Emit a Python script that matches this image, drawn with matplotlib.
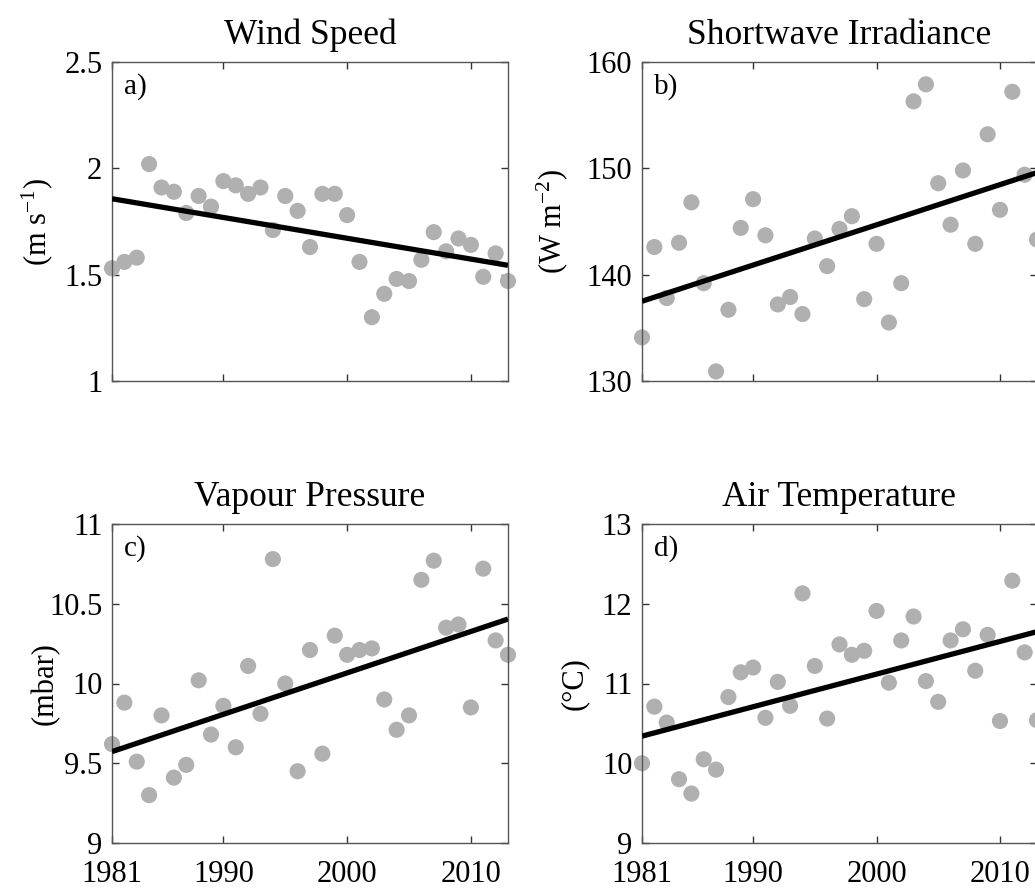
import numpy as np
import matplotlib
matplotlib.use('Agg')
import matplotlib.pyplot as plt

plt.rcParams['font.family'] = ['Liberation Serif', 'DejaVu Serif']
plt.rcParams['mathtext.fontset'] = 'stix'

years = np.arange(1981, 2014)

wind = [1.53, 1.56, 1.58, 2.02, 1.91, 1.89, 1.79, 1.87, 1.82, 1.94, 1.92,
        1.88, 1.91, 1.71, 1.87, 1.80, 1.63, 1.88, 1.88, 1.78, 1.56, 1.30,
        1.41, 1.48, 1.47, 1.57, 1.70, 1.61, 1.67, 1.64, 1.49, 1.60, 1.47]
shortwave = [134.1, 142.6, 137.8, 143.0, 146.8, 139.2, 130.9, 136.7, 144.4,
             147.1, 143.7, 137.2, 137.9, 136.3, 143.4, 140.8, 144.3, 145.5,
             137.7, 142.9, 135.5, 139.2, 156.3, 157.9, 148.6, 144.7, 149.8,
             142.9, 153.2, 146.1, 157.2, 149.4, 143.3]
vapour = [9.62, 9.88, 9.51, 9.30, 9.80, 9.41, 9.49, 10.02, 9.68, 9.86, 9.60,
          10.11, 9.81, 10.78, 10.00, 9.45, 10.21, 9.56, 10.30, 10.18, 10.21,
          10.22, 9.90, 9.71, 9.80, 10.65, 10.77, 10.35, 10.37, 9.85, 10.72,
          10.27, 10.18]
air_temp = [10.00, 10.71, 10.51, 9.80, 9.62, 10.05, 9.92, 10.83, 11.14, 11.20,
            10.57, 11.02, 10.72, 12.13, 11.22, 10.56, 11.49, 11.36, 11.41,
            11.91, 11.01, 11.54, 11.84, 11.03, 10.77, 11.54, 11.68, 11.16,
            11.61, 10.53, 12.29, 11.39, 10.54]

# trend line values at 1981 and 2013
trend_years = [1981, 2013]
wind_trend = [1.857, 1.544]
shortwave_trend = [137.5, 149.6]
vapour_trend = [9.573, 10.404]
air_temp_trend = [10.34, 11.65]

panels = [
    ('Wind Speed', 'a)', wind, wind_trend, (1, 2.5), [1, 1.5, 2, 2.5],
     ['1', '1.5', '2', '2.5'], r'(m s$^{\mathregular{-1}}$)'),
    ('Shortwave Irradiance', 'b)', shortwave, shortwave_trend, (130, 160),
     [130, 140, 150, 160], ['130', '140', '150', '160'], r'(W m$^{\mathregular{-2}}$)'),
    ('Vapour Pressure', 'c)', vapour, vapour_trend, (9, 11),
     [9, 9.5, 10, 10.5, 11], ['9', '9.5', '10', '10.5', '11'], '(mbar)'),
    ('Air Temperature', 'd)', air_temp, air_temp_trend, (9, 13),
     [9, 10, 11, 12, 13], ['9', '10', '11', '12', '13'], '(°C)'),
]

W, H = 1035, 890
fig = plt.figure(figsize=(W / 100, H / 100), dpi=100)

# axes boxes in pixels: left, top, right, bottom
boxes = [(112, 62, 508, 381), (642, 62, 1037, 381),
         (112, 524, 508, 843), (642, 524, 1037, 843)]
# right edge of each y label, in pixels
ylabel_x = [56, 571, 60, 589]

for i, (title, letter, vals, trend, ylim, yticks, ylabels, ylab) in enumerate(panels):
    l, t, r, b = boxes[i]
    ax = fig.add_axes([l / W, 1 - b / H, (r - l) / W, (b - t) / H])
    ax.scatter(years, vals, s=135, color='#b0b0b0', edgecolors='none',
               clip_on=False, zorder=2)
    ax.plot(trend_years, trend, color='black', lw=3.8, zorder=3,
            solid_capstyle='butt')
    ax.set_xlim(1981, 2013)
    ax.set_ylim(*ylim)
    ax.set_yticks(yticks)
    ax.set_yticklabels(ylabels)
    ax.set_xticks([1981, 1990, 2000, 2010])
    if i >= 2:
        ax.set_xticklabels(['1981', '1990', '2000', '2010'])
    else:
        ax.set_xticklabels([])
    ax.tick_params(direction='in', length=5, width=1, top=True, right=True,
                   labelsize=22, color='#333333')
    ax.tick_params(axis='x', pad=12)
    ax.tick_params(axis='y', pad=7)
    for sp in ax.spines.values():
        sp.set_color('#555555')
        sp.set_linewidth(1.0)
    ax.set_title(title, fontsize=25.5, pad=13)
    ax.set_ylabel(ylab, fontsize=22)
    ax.yaxis.set_label_coords((ylabel_x[i] - l) / (r - l), 0.5)
    ax.text(0.03, 0.965, letter, transform=ax.transAxes, fontsize=21,
            va='top', ha='left')

fig.savefig('out.png', dpi=100)
